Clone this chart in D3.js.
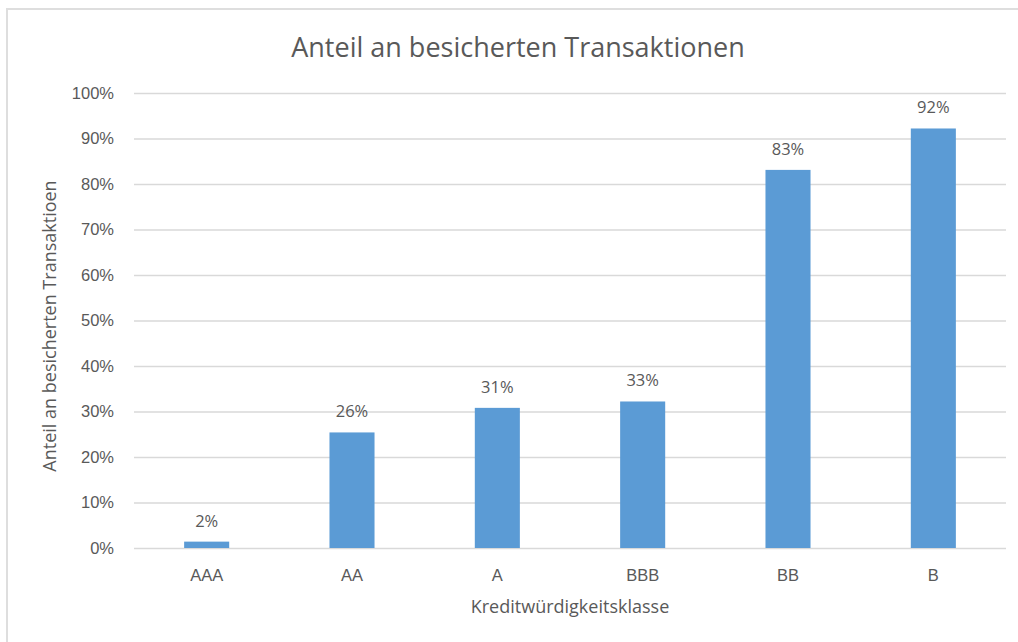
<!DOCTYPE html>
<html>
<head>
<meta charset="utf-8">
<script src="https://cdn.jsdelivr.net/npm/d3@7/dist/d3.min.js"></script>
<style>
    html, body { margin: 0; padding: 0; background: #ffffff; }
    svg { display: block; font-family: 'Open Sans', 'Noto Sans', sans-serif; }
</style>
</head>
<body>
<div id="chart"></div>
<script>

// chart values
var categories = [ 'AAA', 'AA', 'A', 'BBB', 'BB', 'B' ];
var shares = [ 0.014, 0.254, 0.308, 0.322, 0.831, 0.922 ];
var shareLabels = [ '2%', '26%', '31%', '33%', '83%', '92%' ];
var yTicks = [ 0, 0.1, 0.2, 0.3, 0.4, 0.5, 0.6, 0.7, 0.8, 0.9, 1 ];

var chartTitle = 'Anteil an besicherten Transaktionen';
var xTitle = 'Kreditwürdigkeitsklasse';
var yTitle = 'Anteil an besicherten Transaktioen';

var width = 1018,
    height = 642;

var margin = { top: 93, right: 12, bottom: 94, left: 134 };

var textColor = '#595959';

var svg = d3.select('#chart').append('svg')
    .attr('width', width)
    .attr('height', height);

// light frame of the original screenshot
svg.append('path')
    .attr('d', 'M7,' + height + 'V9H' + width)
    .attr('fill', 'none')
    .attr('stroke', '#dedede')
    .attr('stroke-width', 2);

var x = d3.scaleBand()
    .domain( categories )
    .range([ margin.left, width - margin.right ])
    .paddingInner( 0.69 )
    .paddingOuter( 0.345 );

var y = d3.scaleLinear()
    .domain([ 0, 1 ])
    .range([ height - margin.bottom, margin.top ]);

// gridlines + y tick labels
var yAxis = svg.append('g')
    .attr('transform', 'translate(' + margin.left + ',0)')
    .call( d3.axisLeft( y )
        .tickValues( yTicks )
        .tickFormat( d3.format('.0%') )
        .tickSize( -( width - margin.left - margin.right ) )
        .tickPadding( 20 ) );

yAxis.select('.domain').remove();

yAxis.selectAll('.tick line')
    .attr('stroke', '#d9d9d9')
    .attr('stroke-width', 1.5);

yAxis.selectAll('.tick text')
    .attr('fill', textColor)
    .style('font-size', '16.5px');

// bars
svg.selectAll('.bar')
    .data( shares )
    .enter().append('rect')
    .attr('class', 'bar')
    .attr('x', function ( d, i ) { return x( categories[ i ] ); })
    .attr('y', function ( d ) { return y( d ); })
    .attr('width', x.bandwidth())
    .attr('height', function ( d ) { return y( 0 ) - y( d ); })
    .attr('fill', '#5b9bd5');

// data labels
svg.selectAll('.value-label')
    .data( shares )
    .enter().append('text')
    .attr('class', 'value-label')
    .attr('x', function ( d, i ) { return x( categories[ i ] ) + x.bandwidth() / 2; })
    .attr('y', function ( d ) { return y( d ) - 15; })
    .attr('text-anchor', 'middle')
    .attr('fill', textColor)
    .style('font-size', '16.5px')
    .text( function ( d, i ) { return shareLabels[ i ]; });

// x axis labels
var xAxis = svg.append('g')
    .attr('transform', 'translate(0,' + y( 0 ) + ')')
    .call( d3.axisBottom( x ).tickSize( 0 ).tickPadding( 21 ) );

xAxis.select('.domain').remove();

xAxis.selectAll('.tick text')
    .attr('fill', textColor)
    .style('font-size', '16.5px');

// titles
svg.append('text')
    .attr('x', 518)
    .attr('y', 57)
    .attr('text-anchor', 'middle')
    .attr('fill', textColor)
    .style('font-size', '27px')
    .text( chartTitle );

svg.append('text')
    .attr('x', ( margin.left + width - margin.right ) / 2)
    .attr('y', 613)
    .attr('text-anchor', 'middle')
    .attr('fill', textColor)
    .style('font-size', '18px')
    .text( xTitle );

svg.append('text')
    .attr('transform', 'translate(56,' + 326 + ') rotate(-90)')
    .attr('text-anchor', 'middle')
    .attr('fill', textColor)
    .style('font-size', '18px')
    .text( yTitle );

</script>
</body>
</html>
